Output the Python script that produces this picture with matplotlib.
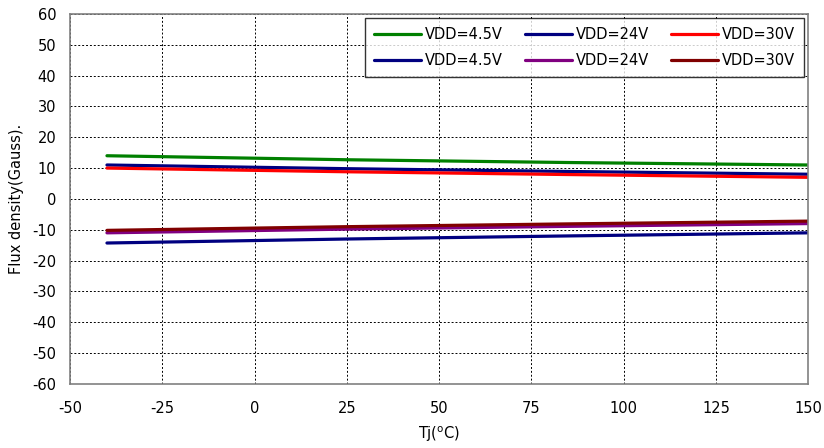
import numpy as np
import matplotlib.pyplot as plt

plt.rcParams['axes.unicode_minus'] = False

tj = [-40, 25, 85, 150]

# north pole (upper group) and south pole (lower group) flux density
bop_45 = [14.0, 12.7, 11.8, 11.0]
bop_24 = [11.0, 9.8, 8.9, 8.0]
bop_30 = [10.0, 8.8, 7.9, 7.0]
brp_45 = [-14.3, -13.0, -12.0, -11.0]
brp_24 = [-11.0, -9.8, -8.9, -8.0]
brp_30 = [-10.2, -9.0, -8.1, -7.2]

labels = ["VDD=4.5V", "VDD=24V", "VDD=30V"]

fig = plt.figure(figsize=(8.24, 4.48), dpi=100)
ax = fig.add_axes([0.085, 0.143, 0.896, 0.826])

series = [
    (bop_45, "#008000", labels[0]),
    (brp_45, "#000080", labels[0]),
    (bop_24, "#000080", labels[1]),
    (brp_24, "#800080", labels[1]),
    (bop_30, "#ff0000", labels[2]),
    (brp_30, "#800000", labels[2]),
]
for vals, c, lab in series:
    ax.plot(tj, vals, color=c, lw=2.3, label=lab, solid_capstyle="round")

ax.set_xlim(-50, 150)
ax.set_ylim(-60, 60)
ax.set_xticks(np.arange(-50, 151, 25))
ax.set_yticks(np.arange(-60, 61, 10))
ax.grid(True, color="black", linestyle=(0, (2, 2)), linewidth=0.7)
ax.tick_params(direction="in", length=0, labelsize=10.5)
ax.tick_params(axis="x", pad=12)
ax.tick_params(axis="y", pad=10)
for s in ax.spines.values():
    s.set_color("#808080")
    s.set_linewidth(1.2)

ax.set_xlabel("Tj($^{\\mathrm{o}}$C)", fontsize=10.5, labelpad=6)
ax.set_ylabel("Flux density(Gauss).", fontsize=10.5, labelpad=6)

leg = ax.legend(ncol=3, loc="upper right", fontsize=10.5, frameon=True,
                fancybox=False, edgecolor="black", handlelength=3.2,
                columnspacing=1.5, borderaxespad=0.3, handletextpad=0.3,
                labelspacing=0.75, borderpad=0.6)
leg.get_frame().set_linewidth(1.0)

fig.savefig("out.png", dpi=100)
